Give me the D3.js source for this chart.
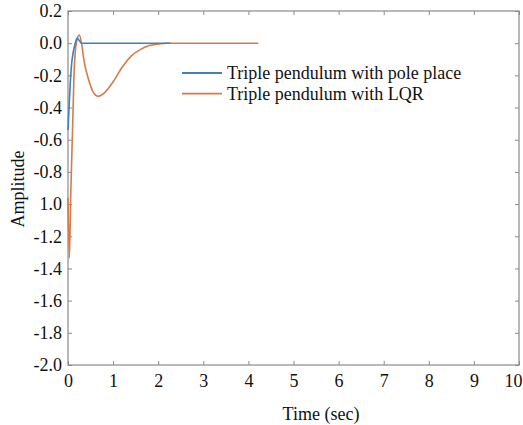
<!DOCTYPE html>
<html>
<head>
<meta charset="utf-8">
<script src="https://cdn.jsdelivr.net/npm/d3@7"></script>
<style>
  body { margin: 0; background: #fff; }
  svg text { font-family: "Liberation Serif", "Times New Roman", Times, "DejaVu Serif", serif !important; }
</style>
</head>
<body>
<script>
// values
const poleT = [0, 0.02, 0.05, 0.08, 0.12, 0.16, 0.2, 0.24, 0.3, 0.4, 2.27];
const poleV = [-0.54, -0.42, -0.25, -0.13, -0.05, 0.0, 0.03, 0.02, 0.0, 0.0, 0.0];
const lqrT = [0, 0.03, 0.06, 0.1, 0.14, 0.19, 0.25, 0.3, 0.35, 0.45, 0.55, 0.67, 0.8, 1.0, 1.2, 1.4, 1.6, 1.8, 2.0, 2.2, 4.22];
const lqrV = [-0.96, -1.335, -0.95, -0.55, -0.15, 0.01, 0.05, 0.0, -0.1, -0.22, -0.3, -0.33, -0.31, -0.24, -0.15, -0.08, -0.04, -0.015, -0.005, 0, 0];
const xTicks = [0, 1, 2, 3, 4, 5, 6, 7, 8, 9, 10];
const yTicks = [0.2, 0.0, -0.2, -0.4, -0.6, -0.8, -1.0, -1.2, -1.4, -1.6, -1.8, -2.0];
const yTickLabels = ["0.2", "0.0", "-0.2", "-0.4", "-0.6", "-0.8", "1.0", "-1.2", "-1.4", "-1.6", "-1.8", "-2.0"];
const seriesNames = ["Triple pendulum with pole place", "Triple pendulum with LQR"];
const colors = ["#3f81bd", "#d47c4c"];

const W = 523, H = 425;
const mLeft = 68, mRight = 519, mTop = 11, mBottom = 365;

const svg = d3.select("body").append("svg")
  .attr("width", W).attr("height", H)
  .attr("font-family", "'Liberation Serif', serif");

const x = d3.scaleLinear().domain([0, 10]).range([mLeft, mRight]);
const y = d3.scaleLinear().domain([-2.0, 0.2]).range([mBottom, mTop]);

const frame = "#8a8a8a";

// bottom axis
const gx = svg.append("g").attr("transform", `translate(0,${mBottom})`)
  .call(d3.axisBottom(x).tickValues(xTicks).tickSizeInner(-4).tickSizeOuter(0).tickPadding(9));
// top ticks
const gxt = svg.append("g").attr("transform", `translate(0,${mTop})`)
  .call(d3.axisTop(x).tickValues(xTicks).tickSizeInner(-4).tickSizeOuter(0).tickFormat(""));
// left axis
const gy = svg.append("g").attr("transform", `translate(${mLeft},0)`)
  .call(d3.axisLeft(y).tickValues(yTicks).tickSizeInner(-4).tickSizeOuter(0).tickPadding(6)
    .tickFormat((d, i) => yTickLabels[i]));
// right ticks
const gyr = svg.append("g").attr("transform", `translate(${mRight},0)`)
  .call(d3.axisRight(y).tickValues(yTicks).tickSizeInner(-4).tickSizeOuter(0).tickFormat(""));

[gx, gxt, gy, gyr].forEach(g => {
  g.attr("font-family", null);
  g.select(".domain").remove();
  g.selectAll("line").attr("stroke", frame);
  g.selectAll("text").attr("fill", "#111").style("font-size", "18px");
});
// the last label sits inside the picture edge
gx.selectAll(".tick text").filter(d => d === 10).attr("dx", -6);

svg.append("rect")
  .attr("x", mLeft).attr("y", mTop)
  .attr("width", mRight - mLeft).attr("height", mBottom - mTop)
  .attr("fill", "none").attr("stroke", frame).attr("stroke-width", 1.2);

const line = d3.line().x(d => x(d[0])).y(d => y(d[1])).curve(d3.curveMonotoneX);

const lqrData = lqrT.map((t, i) => [t, lqrV[i]]);
const poleData = poleT.map((t, i) => [t, poleV[i]]);

svg.append("path").datum(lqrData)
  .attr("d", line).attr("fill", "none")
  .attr("stroke", colors[1]).attr("stroke-width", 1.6);
svg.append("path").datum(poleData)
  .attr("d", line).attr("fill", "none")
  .attr("stroke", colors[0]).attr("stroke-width", 1.6);

// legend
const lg = svg.append("g");
seriesNames.forEach((name, i) => {
  const ly = 73 + i * 20.7;
  lg.append("line").attr("x1", 182).attr("x2", 222).attr("y1", ly).attr("y2", ly)
    .attr("stroke", colors[i]).attr("stroke-width", 1.8);
  lg.append("text").attr("x", 227).attr("y", ly + 6.3)
    .style("font-size", "18px").attr("fill", "#111").text(name);
});

// axis titles
svg.append("text").attr("x", 321).attr("y", 420).attr("text-anchor", "middle")
  .style("font-size", "18px").attr("fill", "#111").text("Time (sec)");
svg.append("text").attr("transform", `translate(24,189) rotate(-90)`)
  .attr("text-anchor", "middle").style("font-size", "18px").attr("fill", "#111").text("Amplitude");
</script>
</body>
</html>
